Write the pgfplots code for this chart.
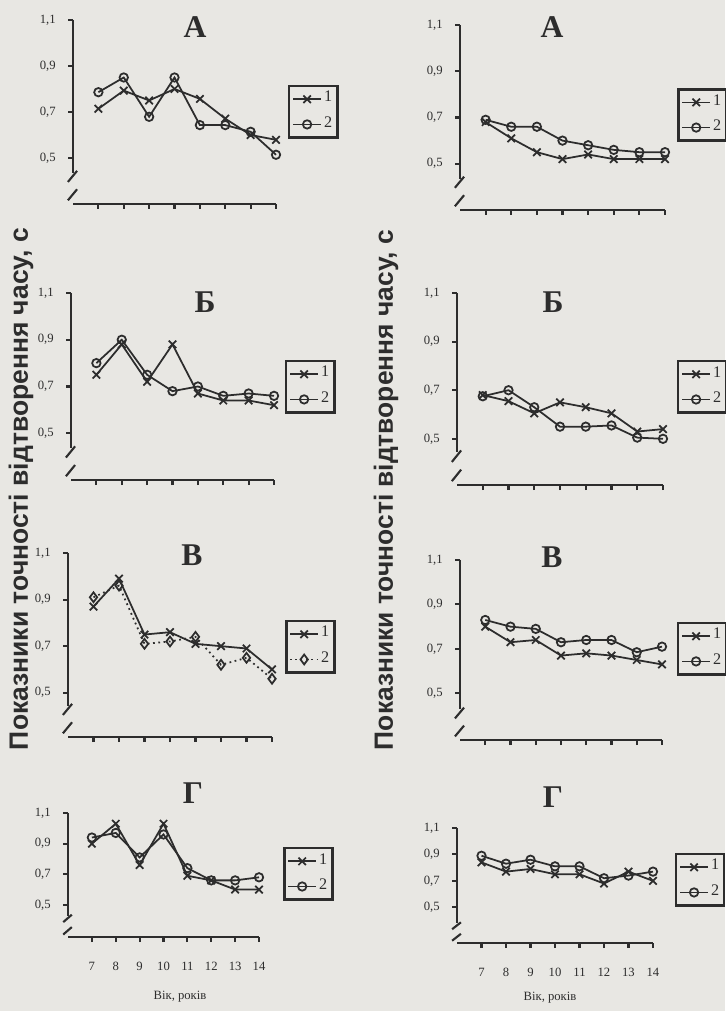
\documentclass[border=0pt]{standalone}
\usepackage{fontspec}
\setmainfont{Liberation Serif}
\newfontfamily\labelfont{Liberation Sans}
\usepackage{graphicx}
\usepackage{pgfplots}
\pgfplotsset{compat=1.18}

\definecolor{paper}{RGB}{232,231,227}
\definecolor{ink}{RGB}{45,45,45}

\pgfplotsset{
  panel/.style={
    scale only axis, clip=false,
    axis x line=bottom, axis y line=left,
    axis line style={-, ink, line width=0.7pt},
    y axis line style={draw=none},
    xmin=6, xmax=14, ymax=1.1,
    xtick={7,...,14}, ytick={0.5,0.7,0.9,1.1},
    xticklabels={},
    tick align=outside, major tick length=0.05cm,
    tick style={ink, line width=0.6pt},
    ticklabel style={font=\fontsize{3.6}{4}\selectfont, text=ink},
    yticklabel style={/pgf/number format/.cd, fixed, fixed zerofill, precision=1, use comma},
    /pgf/number format/assume math mode=true,
    legend image code/.code={\draw[mark repeat=2,mark phase=2,##1] plot coordinates {(0cm,0cm)(0.14cm,0cm)(0.28cm,0cm)};},
    legend style={anchor=north west, draw=ink, line width=0.7pt, fill=paper,
      font=\fontsize{4.6}{5}\selectfont, text=ink, row sep=0.05cm,
      inner xsep=0.03cm, inner ysep=0.03cm, nodes={inner sep=0.6pt}},
    legend cell align=left,
  },
  bottom/.style={xticklabels={7,8,9,10,11,12,13,14}, xticklabel style={yshift=-0.08cm}},
  s1/.style={ink, line width=0.5pt, mark=x, mark size=1.5pt, mark options={solid, line width=0.5pt}},
  s2/.style={ink, line width=0.5pt, mark=o, mark size=1.2pt, mark options={solid, fill=paper}},
}

\newcommand{\brk}{%
  \draw[ink, line width=0.7pt] (rel axis cs:0,1) -- (rel axis cs:0,0.17);
  \draw[ink, line width=0.6pt] (rel axis cs:-0.025,0.12) -- (rel axis cs:0.02,0.18);
  \draw[ink, line width=0.6pt] (rel axis cs:-0.025,0.02) -- (rel axis cs:0.02,0.08);
}

\begin{document}
\begin{tikzpicture}
\fill[paper] (0,0) rectangle (7.25cm,-10.11cm);

% ---- left column ----
\begin{axis}[panel, at={(0.73cm,-2.04cm)}, anchor=south west,
  width=2.03cm, height=1.84cm, ymin=0.3, legend style={at={(1.059,0.647)}}]
\addplot[s1] coordinates {(7,0.714)(8,0.793)(9,0.75)(10,0.80)(11,0.757)(12,0.671)(13,0.60)(14,0.579)};
\addlegendentry{1}
\addplot[s2] coordinates {(7,0.786)(8,0.85)(9,0.679)(10,0.85)(11,0.643)(12,0.643)(13,0.614)(14,0.514)};
\addlegendentry{2}
\brk
\end{axis}

\begin{axis}[panel, at={(0.71cm,-4.80cm)}, anchor=south west,
  width=2.03cm, height=1.87cm, ymin=0.3, legend style={at={(1.054,0.642)}}]
\addplot[s1] coordinates {(7,0.75)(8,0.88)(9,0.72)(10,0.88)(11,0.67)(12,0.64)(13,0.64)(14,0.62)};
\addlegendentry{1}
\addplot[s2] coordinates {(7,0.80)(8,0.90)(9,0.75)(10,0.68)(11,0.70)(12,0.66)(13,0.67)(14,0.66)};
\addlegendentry{2}
\brk
\end{axis}

\begin{axis}[panel, at={(0.68cm,-7.37cm)}, anchor=south west,
  width=2.04cm, height=1.84cm, ymin=0.31, legend style={at={(1.064,0.636)}}]
\addplot[s1] coordinates {(7,0.87)(8,0.99)(9,0.75)(10,0.76)(11,0.71)(12,0.70)(13,0.69)(14,0.60)};
\addlegendentry{1}
\addplot[s2, densely dotted, mark=diamond, mark size=1.4pt] coordinates {(7,0.91)(8,0.96)(9,0.71)(10,0.72)(11,0.74)(12,0.62)(13,0.65)(14,0.56)};
\addlegendentry{2}
\brk
\end{axis}

\begin{axis}[panel, bottom, at={(0.68cm,-9.37cm)}, anchor=south west,
  width=1.91cm, height=1.24cm, ymin=0.29, legend style={at={(1.126,0.726)}}]
\addplot[s1] coordinates {(7,0.90)(8,1.03)(9,0.76)(10,1.03)(11,0.69)(12,0.66)(13,0.60)(14,0.60)};
\addlegendentry{1}
\addplot[s2] coordinates {(7,0.94)(8,0.97)(9,0.81)(10,0.96)(11,0.74)(12,0.66)(13,0.66)(14,0.68)};
\addlegendentry{2}
\brk
\end{axis}

% ---- right column ----
\begin{axis}[panel, at={(4.60cm,-2.10cm)}, anchor=south west,
  width=2.05cm, height=1.85cm, ymin=0.3, legend style={at={(1.059,0.659)}}]
\addplot[s1] coordinates {(7,0.68)(8,0.61)(9,0.55)(10,0.52)(11,0.54)(12,0.52)(13,0.52)(14,0.52)};
\addlegendentry{1}
\addplot[s2] coordinates {(7,0.69)(8,0.66)(9,0.66)(10,0.60)(11,0.58)(12,0.56)(13,0.55)(14,0.55)};
\addlegendentry{2}
\brk
\end{axis}

\begin{axis}[panel, at={(4.57cm,-4.85cm)}, anchor=south west,
  width=2.06cm, height=1.92cm, ymin=0.31, legend style={at={(1.068,0.651)}}]
\addplot[s1] coordinates {(7,0.68)(8,0.655)(9,0.605)(10,0.65)(11,0.63)(12,0.605)(13,0.53)(14,0.54)};
\addlegendentry{1}
\addplot[s2] coordinates {(7,0.675)(8,0.70)(9,0.63)(10,0.55)(11,0.55)(12,0.555)(13,0.505)(14,0.50)};
\addlegendentry{2}
\brk
\end{axis}

\begin{axis}[panel, at={(4.60cm,-7.40cm)}, anchor=south west,
  width=2.02cm, height=1.80cm, ymin=0.29, legend style={at={(1.074,0.656)}}]
\addplot[s1] coordinates {(7,0.80)(8,0.73)(9,0.74)(10,0.67)(11,0.68)(12,0.67)(13,0.65)(14,0.63)};
\addlegendentry{1}
\addplot[s2] coordinates {(7,0.83)(8,0.80)(9,0.79)(10,0.73)(11,0.74)(12,0.74)(13,0.685)(14,0.71)};
\addlegendentry{2}
\brk
\end{axis}

\begin{axis}[panel, bottom, at={(4.57cm,-9.43cm)}, anchor=south west,
  width=1.96cm, height=1.15cm, ymin=0.23, legend style={at={(1.112,0.783)}}]
\addplot[s1] coordinates {(7,0.84)(8,0.77)(9,0.79)(10,0.75)(11,0.75)(12,0.68)(13,0.77)(14,0.70)};
\addlegendentry{1}
\addplot[s2] coordinates {(7,0.89)(8,0.83)(9,0.86)(10,0.81)(11,0.81)(12,0.72)(13,0.74)(14,0.77)};
\addlegendentry{2}
\brk
\end{axis}

% ---- titles and labels ----
\begin{scope}[every node/.style={text=ink, font=\fontsize{9}{9}\selectfont\bfseries}]
\node at (1.95cm,-0.27cm) {А};
\node at (5.52cm,-0.27cm) {А};
\node at (2.05cm,-3.02cm) {Б};
\node at (5.53cm,-3.02cm) {Б};
\node at (1.92cm,-5.55cm) {В};
\node at (5.52cm,-5.57cm) {В};
\node at (1.93cm,-7.93cm) {Г};
\node at (5.53cm,-7.97cm) {Г};
\end{scope}

\node[rotate=90, text=ink] at (0.21cm,-4.89cm)
  {\resizebox{5.22cm}{!}{\labelfont\bfseries Показники точності відтворення часу, с}};
\node[rotate=90, text=ink] at (3.86cm,-4.90cm)
  {\resizebox{5.20cm}{!}{\labelfont\bfseries Показники точності відтворення часу, с}};

\node[text=ink, font=\fontsize{3.6}{4}\selectfont] at (1.80cm,-9.97cm) {Вік, років};
\node[text=ink, font=\fontsize{3.6}{4}\selectfont] at (5.50cm,-9.98cm) {Вік, років};

\pgfresetboundingbox
\path[use as bounding box] (0,0) rectangle (7.25cm,-10.11cm);
\end{tikzpicture}
\end{document}
